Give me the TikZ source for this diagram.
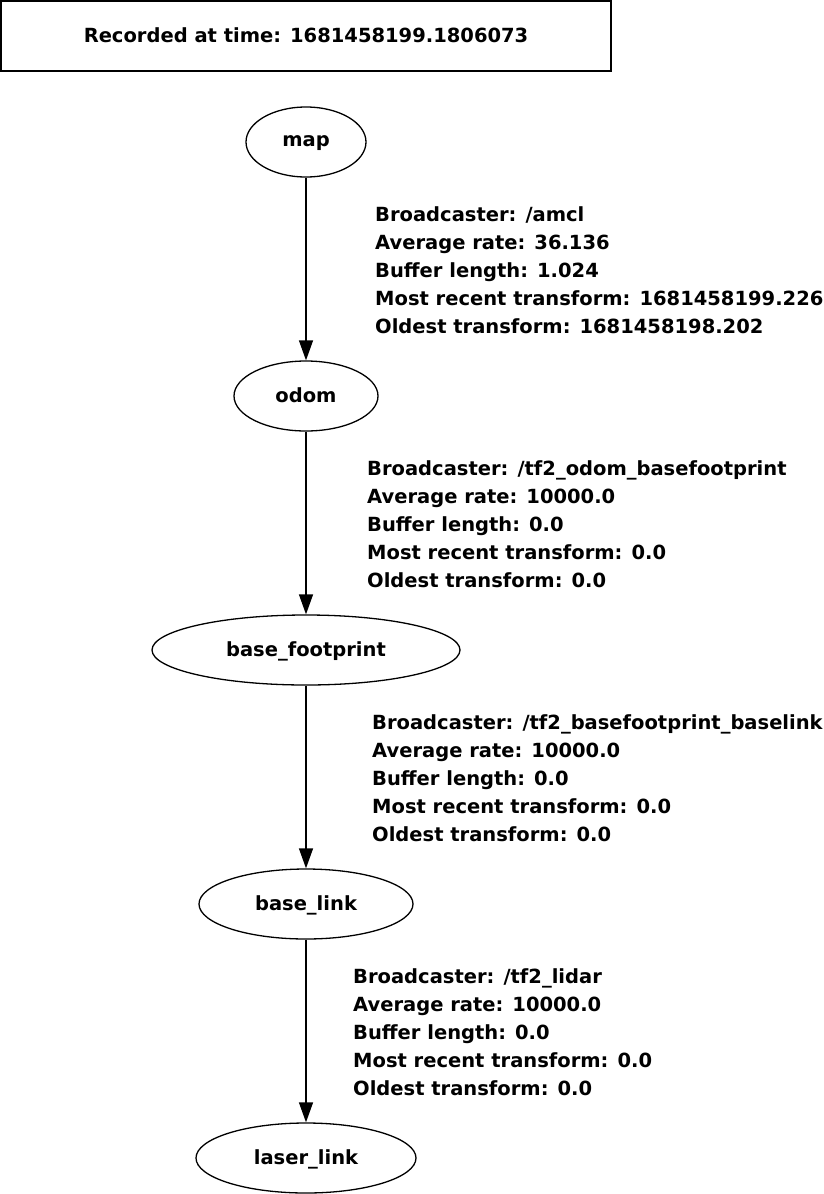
\documentclass[tikz,border=0pt]{standalone}
\usepackage{fontspec}
\setmainfont{DejaVu Sans}
\usepackage{tikz}
\usetikzlibrary{arrows.meta,shapes.geometric}
\tikzstyle{tf_f} = [ellipse, draw=black, line width=1.3pt, inner sep=0pt, minimum height=70pt, text depth=2pt, font=\bfseries\fontsize{19.5}{28}\selectfont]
\tikzstyle{tf_l} = [anchor=west, align=left, inner sep=0pt, font=\bfseries\fontsize{19.5}{28}\selectfont]
\tikzstyle{tf_e} = [-{Triangle[length=20pt,width=14pt]}, line width=1.3pt]

\begin{document}
\begin{tikzpicture}[x=1pt,y=-1pt]
\useasboundingbox (0,0) rectangle (823,1194);
% title box
\node [draw=black, line width=1.3pt, minimum width=610pt, minimum height=70pt, inner sep=0pt, text depth=2pt,
  font=\bfseries\fontsize{19.5}{28}\selectfont] (stamp) at (306,36) {Recorded at time: 1681458199.1806073};
% frames
\node [tf_f, minimum width=120pt] (map) at (306,142) {map};
\node [tf_f, minimum width=144pt] (odom) at (306,396) {odom};
\node [tf_f, minimum width=308pt] (foot) at (306,650) {base\_footprint};
\node [tf_f, minimum width=214pt] (link) at (306,904) {base\_link};
\node [tf_f, minimum width=220pt] (laser) at (306,1158) {laser\_link};
% transforms
\draw [tf_e] (map) -- (odom);
\draw [tf_e] (odom) -- (foot);
\draw [tf_e] (foot) -- (link);
\draw [tf_e] (link) -- (laser);
\node [tf_l] (amcl) at (375,270) {Broadcaster: /amcl\\Average rate: 36.136\\Buffer length: 1.024\\Most recent transform: 1681458199.226\\Oldest transform: 1681458198.202};
\node [tf_l] (odom_bf) at (367,524) {Broadcaster: /tf2\_odom\_basefootprint\\Average rate: 10000.0\\Buffer length: 0.0\\Most recent transform: 0.0\\Oldest transform: 0.0};
\node [tf_l] (bf_bl) at (372,778) {Broadcaster: /tf2\_basefootprint\_baselink\\Average rate: 10000.0\\Buffer length: 0.0\\Most recent transform: 0.0\\Oldest transform: 0.0};
\node [tf_l] (lidar) at (353,1032) {Broadcaster: /tf2\_lidar\\Average rate: 10000.0\\Buffer length: 0.0\\Most recent transform: 0.0\\Oldest transform: 0.0};
\end{tikzpicture}
\end{document}
